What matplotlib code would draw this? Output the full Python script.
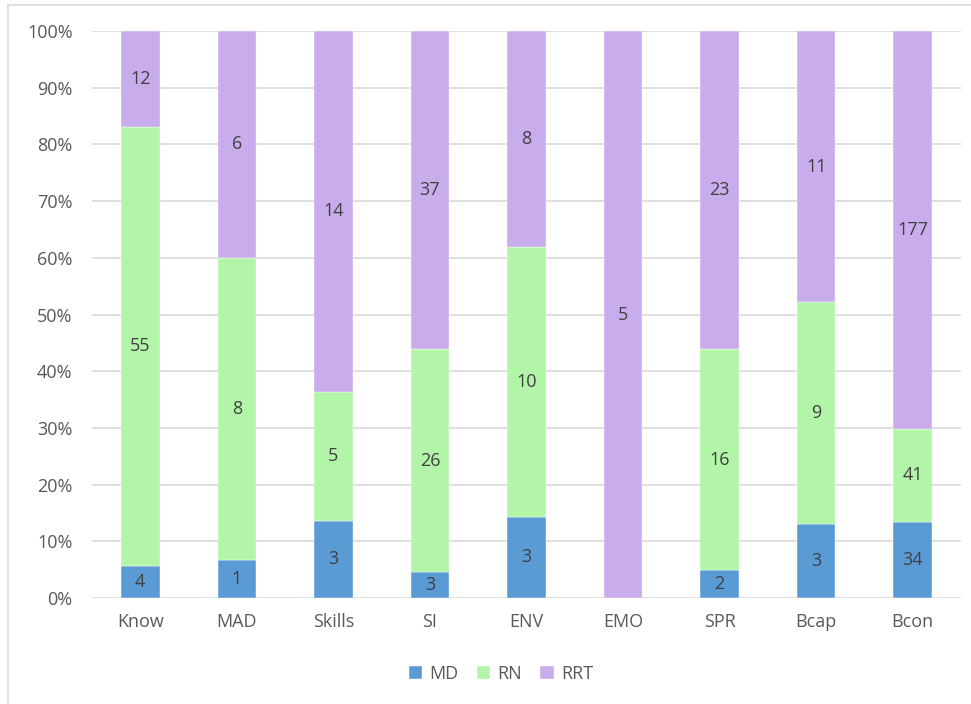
import numpy as np
import matplotlib
matplotlib.use("Agg")
from matplotlib import pyplot as plt
from matplotlib.patches import Rectangle

categories = ["Know", "MAD", "Skills", "SI", "ENV", "EMO", "SPR", "Bcap", "Bcon"]
md = [4, 1, 3, 3, 3, 0, 2, 3, 34]
rn = [55, 8, 5, 26, 10, 0, 16, 9, 41]
rrt = [12, 6, 14, 37, 8, 5, 23, 11, 177]

series = [("MD", md, "#5b9bd5"), ("RN", rn, "#b3f5a8"), ("RRT", rrt, "#c8aceb")]
text_color = "#595959"

plt.rcParams["font.family"] = ["Open Sans", "DejaVu Sans"]

fig = plt.figure(figsize=(9.71, 7.04), dpi=100)
ax = fig.add_axes([92 / 971, 1 - 598 / 704, 869 / 971, 567 / 704])

# chart frame
fig.patches.append(Rectangle((8 / 971, -0.01), 1.0, 1 - 5 / 704 + 0.01,
                             transform=fig.transFigure, fill=False,
                             edgecolor="#d9d9d9", linewidth=1.2))

totals = np.array(md) + np.array(rn) + np.array(rrt)
x = np.arange(len(categories))
bottom = np.zeros(len(categories))
handles = []
for name, vals, color in series:
    share = np.array(vals) / totals
    bars = ax.bar(x, share, 0.4, bottom=bottom, color=color, label=name,
                  edgecolor="white", linewidth=0.3, zorder=3)
    handles.append(bars)
    for xi, v, s, b in zip(x, vals, share, bottom):
        if v > 0:
            ax.text(xi, b + s / 2, str(v), ha="center", va="center",
                    fontsize=13, color="#404040", zorder=4)
    bottom += share

ax.set_xlim(-0.5, len(categories) - 0.5)
ax.set_ylim(0, 1)
ax.set_yticks(np.arange(0, 1.01, 0.1))
ax.set_yticklabels([f"{int(round(t * 100))}%" for t in np.arange(0, 1.01, 0.1)])
ax.set_xticks(x)
ax.set_xticklabels(categories)
ax.tick_params(axis="both", length=0, labelsize=13, colors=text_color)
ax.tick_params(axis="x", pad=11)
ax.tick_params(axis="y", pad=14)
ax.yaxis.grid(True, color="#d9d9d9", linewidth=1.2, zorder=0)
for sp in ax.spines.values():
    sp.set_visible(False)

fig.legend(handles=handles, loc="center", bbox_to_anchor=(501 / 971, 1 - 674 / 704),
           ncol=3, frameon=False, fontsize=13, labelcolor=text_color,
           handlelength=0.75, handleheight=0.75, handletextpad=0.4, columnspacing=1.0)

fig.savefig("out.png", dpi=100)
